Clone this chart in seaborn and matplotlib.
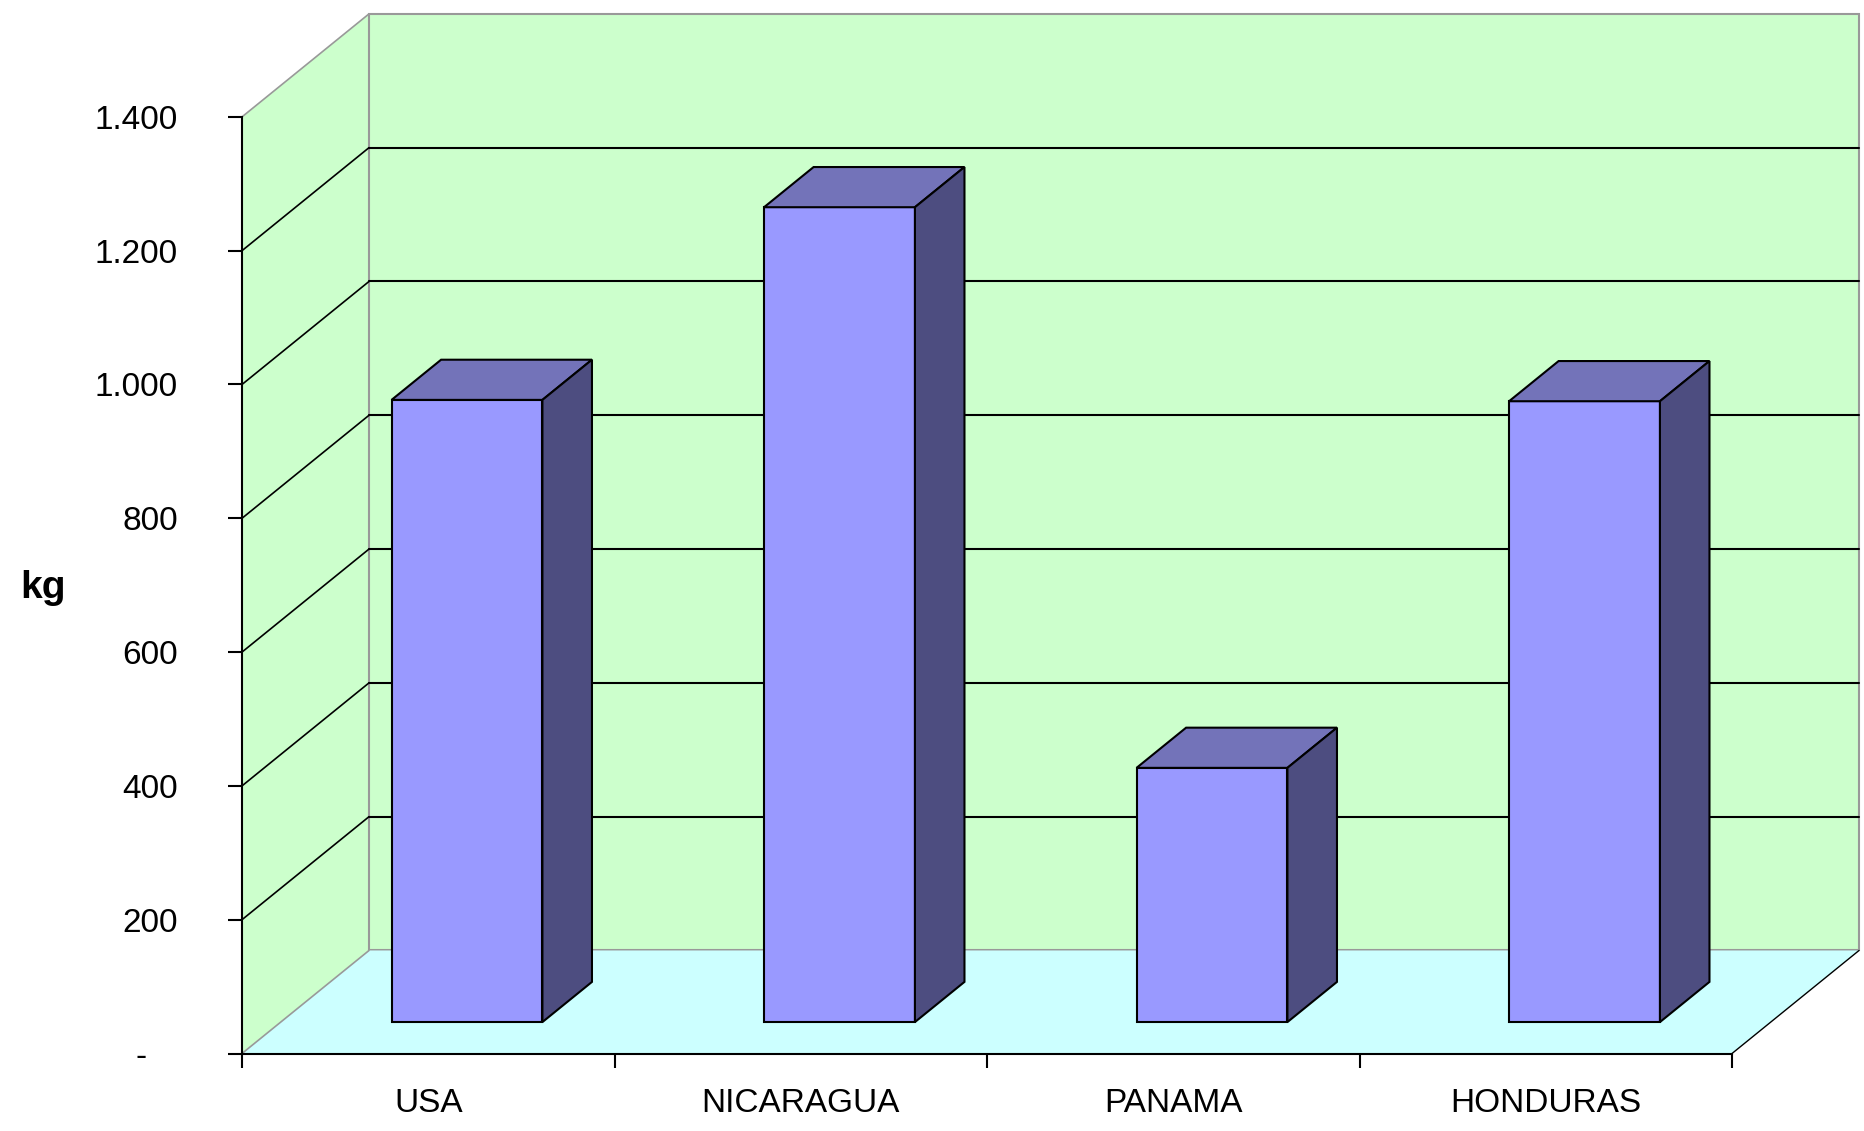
import numpy as np
import pandas as pd
import matplotlib
matplotlib.use("Agg")
import matplotlib.pyplot as plt
from matplotlib.patches import Polygon
import seaborn as sns

# data

countries = ["USA", "NICARAGUA", "PANAMA", "HONDURAS"]
kg_values = [930, 1218, 380, 928]
y_ticks = [0, 200, 400, 600, 800, 1000, 1200, 1400]
y_tick_labels = ["-", "200", "400", "600", "800", "1.000", "1.200", "1.400"]

# colours of the excel style 3d chart

front_col = "#9999FF"
top_col = "#7373B9"
side_col = "#4D4D80"
wall_col = "#CCFFCC"
floor_col = "#CCFFFF"
edge_gray = "#999999"

# fake depth of the box, in data units

depth_x = 0.341
depth_y = 154
bar_front = 0.305
bar_depth = 0.39
y_top = 1400

sns.set_style("white")
plt.rcParams["font.family"] = ["Liberation Sans", "DejaVu Sans"]
plt.rcParams["text.color"] = "black"
plt.rcParams["axes.labelcolor"] = "black"
plt.rcParams["xtick.color"] = "black"
plt.rcParams["ytick.color"] = "black"

fig = plt.figure(figsize=(18.65, 11.31), dpi=100)
ax = fig.add_axes([242 / 1865, 77.5 / 1131, 1623 / 1865, 1053.5 / 1131])

df = pd.DataFrame({"country": countries, "kg": kg_values})
sns.barplot(data=df, x="country", y="kg", color=front_col, saturation=1,
            width=0.405, edgecolor="black", linewidth=1.5, ax=ax, zorder=3)
bars = list(ax.patches)

n = len(countries)
lx, rx = -0.5, n - 0.5
ax.set_xlim(lx, rx + 0.357)
ax.set_ylim(0, 1574.7)

# walls and floor

ax.add_patch(Polygon([(lx, 0), (lx + depth_x, depth_y), (lx + depth_x, y_top + depth_y), (lx, y_top)],
                     fc=wall_col, ec="none", zorder=0))
ax.add_patch(Polygon([(lx + depth_x, depth_y), (rx + depth_x, depth_y),
                      (rx + depth_x, y_top + depth_y), (lx + depth_x, y_top + depth_y)],
                     fc=wall_col, ec=edge_gray, lw=1.5, zorder=0))
ax.add_patch(Polygon([(lx, 0), (rx, 0), (rx + depth_x, depth_y), (lx + depth_x, depth_y)],
                     fc=floor_col, ec="none", zorder=0.5))

for v in y_ticks[1:-1]:
    ax.plot([lx + depth_x, rx + depth_x], [v + depth_y, v + depth_y], color="black", lw=1.5, zorder=1)
    ax.plot([lx, lx + depth_x], [v, v + depth_y], color="black", lw=1.2, zorder=1)

ax.plot([lx, lx + depth_x], [y_top, y_top + depth_y], color=edge_gray, lw=1.2, zorder=1)
ax.plot([lx, lx + depth_x], [0, depth_y], color=edge_gray, lw=1.2, zorder=1)
ax.plot([rx, rx + depth_x], [0, depth_y], color="black", lw=1.0, zorder=1)

# move bars back into the box and add top and side faces

ddx, ddy = bar_depth * depth_x, bar_depth * depth_y
for bar in bars:
    bx = bar.get_x() + bar_front * depth_x
    by = bar_front * depth_y
    bar.set_x(bx)
    bar.set_y(by)
    w, h = bar.get_width(), bar.get_height()
    ax.add_patch(Polygon([(bx, by + h), (bx + w, by + h), (bx + w + ddx, by + h + ddy), (bx + ddx, by + h + ddy)],
                         fc=top_col, ec="black", lw=1.5, zorder=3))
    ax.add_patch(Polygon([(bx + w, by), (bx + w + ddx, by + ddy), (bx + w + ddx, by + h + ddy), (bx + w, by + h)],
                         fc=side_col, ec="black", lw=1.5, zorder=3))

# axes

for s in ["top", "right"]:
    ax.spines[s].set_visible(False)
ax.spines["left"].set_bounds(0, y_top)
ax.spines["bottom"].set_bounds(lx, rx)
for s in ["left", "bottom"]:
    ax.spines[s].set_linewidth(1.5)
    ax.spines[s].set_color("black")

ax.set_yticks(y_ticks, y_tick_labels)
ax.tick_params(axis="y", direction="out", length=10, width=1.5, pad=36, labelsize=24, left=True,
               color="black", labelcolor="black")
ax.yaxis.get_major_ticks()[0].label1.set_x(-0.0197)

ax.set_xticks(np.arange(n + 1) - 0.5)
ax.set_xticks(np.arange(n), countries, minor=True)
ax.tick_params(axis="x", which="major", direction="out", length=10, width=1.5, bottom=True,
               labelbottom=False, color="black")
ax.tick_params(axis="x", which="minor", length=0, pad=25, labelsize=24, bottom=True, labelcolor="black")

ax.set_xlabel("")
ax.set_ylabel("kg", rotation=0, fontsize=28, fontweight="bold", ha="center", va="center", color="black")
ax.yaxis.set_label_coords(-0.1226, 0.4419)

fig.savefig("out.png", dpi=100)
